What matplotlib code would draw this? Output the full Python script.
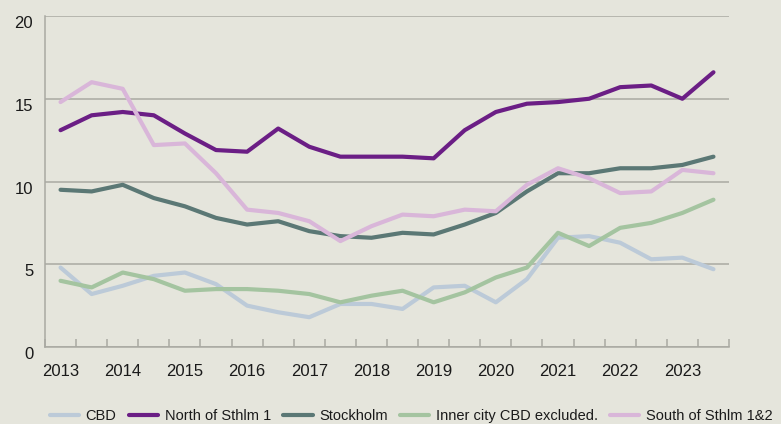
import matplotlib
matplotlib.use("Agg")
import matplotlib.pyplot as plt
import matplotlib.transforms as mtransforms

# ---- data ----
periods = [f"{y} H{h}" for y in range(2013, 2024) for h in (1, 2)]
year_labels = ["2013", "2014", "2015", "2016", "2017", "2018",
               "2019", "2020", "2021", "2022", "2023"]

cbd = [4.8, 3.2, 3.7, 4.3, 4.5, 3.8, 2.5, 2.1, 1.8, 2.6, 2.6, 2.3,
       3.6, 3.7, 2.7, 4.1, 6.6, 6.7, 6.3, 5.3, 5.4, 4.7]
north = [13.1, 14.0, 14.2, 14.0, 12.9, 11.9, 11.8, 13.2, 12.1, 11.5, 11.5, 11.5,
         11.4, 13.1, 14.2, 14.7, 14.8, 15.0, 15.7, 15.8, 15.0, 16.6]
stockholm = [9.5, 9.4, 9.8, 9.0, 8.5, 7.8, 7.4, 7.6, 7.0, 6.7, 6.6, 6.9,
             6.8, 7.4, 8.1, 9.4, 10.5, 10.5, 10.8, 10.8, 11.0, 11.5]
inner = [4.0, 3.6, 4.5, 4.1, 3.4, 3.5, 3.5, 3.4, 3.2, 2.7, 3.1, 3.4,
         2.7, 3.3, 4.2, 4.8, 6.9, 6.1, 7.2, 7.5, 8.1, 8.9]
south = [14.8, 16.0, 15.6, 12.2, 12.3, 10.5, 8.3, 8.1, 7.6, 6.4, 7.3, 8.0,
         7.9, 8.3, 8.2, 9.8, 10.8, 10.2, 9.3, 9.4, 10.7, 10.5]

series_names = ["CBD", "North of Sthlm 1", "Stockholm",
                "Inner city CBD excluded.", "South of Sthlm 1&2"]
series_values = [cbd, north, stockholm, inner, south]
series_colors = ["#bccad8", "#6b1e85", "#5b7875", "#a4c4a0", "#d9b6d9"]

bg = "#e5e5dc"
grid_c = "#a9a9a2"

plt.rcParams["font.family"] = ["Liberation Sans", "DejaVu Sans"]

fig = plt.figure(figsize=(7.81, 4.24), dpi=100, facecolor=bg)
ax = fig.add_axes([45 / 781, 77 / 424, 684 / 781, 331 / 424])
ax.set_facecolor(bg)

x = list(range(len(periods)))
for name, vals, col in zip(series_names, series_values, series_colors):
    ax.plot(x, vals, color=col, lw=3, label=name,
            solid_joinstyle="round", solid_capstyle="round")

ax.set_xlim(-0.5, len(periods) - 0.5)
ax.set_ylim(0, 20)

# y axis
ax.set_yticks([0, 5, 10, 15, 20])
ax.set_yticklabels(["0", "5", "10", "15", "20"])
ax.tick_params(axis="y", length=0, pad=8.5, labelsize=12, labelcolor="#1a1a1a")
offset = mtransforms.ScaledTranslation(0, -6 / 100, fig.dpi_scale_trans)
for lab in ax.get_yticklabels():
    lab.set_transform(lab.get_transform() + offset)
ax.yaxis.grid(True, color=grid_c, lw=1.1)
ax.set_axisbelow(True)

# x axis: boundaries as major ticks, year labels on minor ticks
ax.set_xticks([i - 0.5 for i in range(len(periods) + 1)])
ax.set_xticklabels([])
ax.set_xticks(list(range(0, len(periods), 2)), minor=True)
ax.set_xticklabels(year_labels, minor=True)
ax.tick_params(axis="x", which="major", direction="in", length=6,
               width=1.1, color=grid_c)
ax.tick_params(axis="x", which="minor", length=0, pad=12, labelsize=12,
               labelcolor="#1a1a1a")

for s in ["top", "right"]:
    ax.spines[s].set_visible(False)
for s in ["left", "bottom"]:
    ax.spines[s].set_color(grid_c)
    ax.spines[s].set_linewidth(1.1)

leg = fig.legend(loc="center left", bbox_to_anchor=(50 / 781, 1 - 416 / 424),
                 ncol=5, frameon=False, fontsize=10.5, handlelength=2.0,
                 handletextpad=0.45, columnspacing=0.85, borderpad=0,
                 borderaxespad=0)
for t in leg.get_texts():
    t.set_color("#1a1a1a")

fig.savefig("out.png", dpi=100, facecolor=bg)
